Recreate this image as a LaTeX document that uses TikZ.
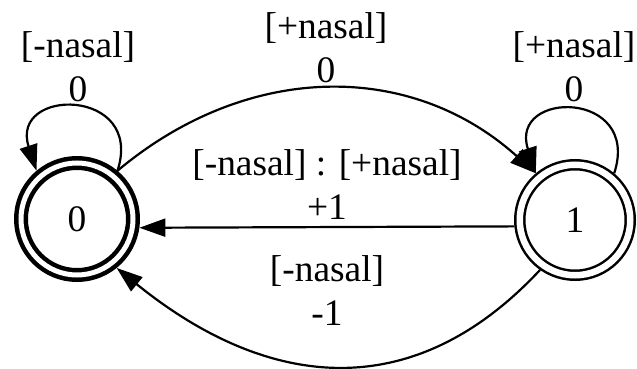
\documentclass[tikz,border=0pt]{standalone}
\usepackage{fontspec}
\setmainfont{Liberation Serif}
\usetikzlibrary{arrows.meta}

\begin{document}
\begin{tikzpicture}[x=1pt, y=1pt, >={Triangle[length=26pt,width=18pt]},
  every node/.style={font=\fontsize{37.4}{44}\selectfont},
  stnode/.style={circle, draw, double, line width=2.5pt, double distance=6.5pt,
    minimum size=110.5pt, inner sep=0pt, outer sep=5.75pt},
  boldnode/.style={stnode, line width=4.5pt, double distance=5pt,
    minimum size=112pt, outer sep=7pt},
  lbl/.style={align=center, anchor=base, inner sep=0pt},
  arc/.style={->, line width=2.2pt}]
\useasboundingbox (0,0) rectangle (637,368);

% states
\node[boldnode] (n0) at (77,149) {0};
\node[stnode] (n1) at (575,148) {1};

% self loops
\draw[arc] (n0.50) to[out=72, in=108, distance=88pt] (n0.130);
\draw[arc] (n1.50) to[out=72, in=108, distance=88pt] (n1.130);

% transitions between the states
\draw[arc] (n0.50) to[out=40, in=138, distance=169pt] (n1.130);
\draw[arc] (n1.186) -- (n0.352);
\draw[arc] (n1.235) to[out=227, in=321, distance=190pt] (n0.309);

% labels (anchored on the baseline of their last line)
\node[lbl] (lab00) at (78,267) {[-nasal]\\0};
\node[lbl] (lab11) at (574,267) {[+nasal]\\0};
\node[lbl] (lab01) at (326,286) {[+nasal]\\0};
\node[lbl] (lab10) at (327,149) {[-nasal] : [+nasal]\\+1};
\node[lbl] (lab10b) at (327,43) {[-nasal]\\-1};
\end{tikzpicture}
\end{document}
